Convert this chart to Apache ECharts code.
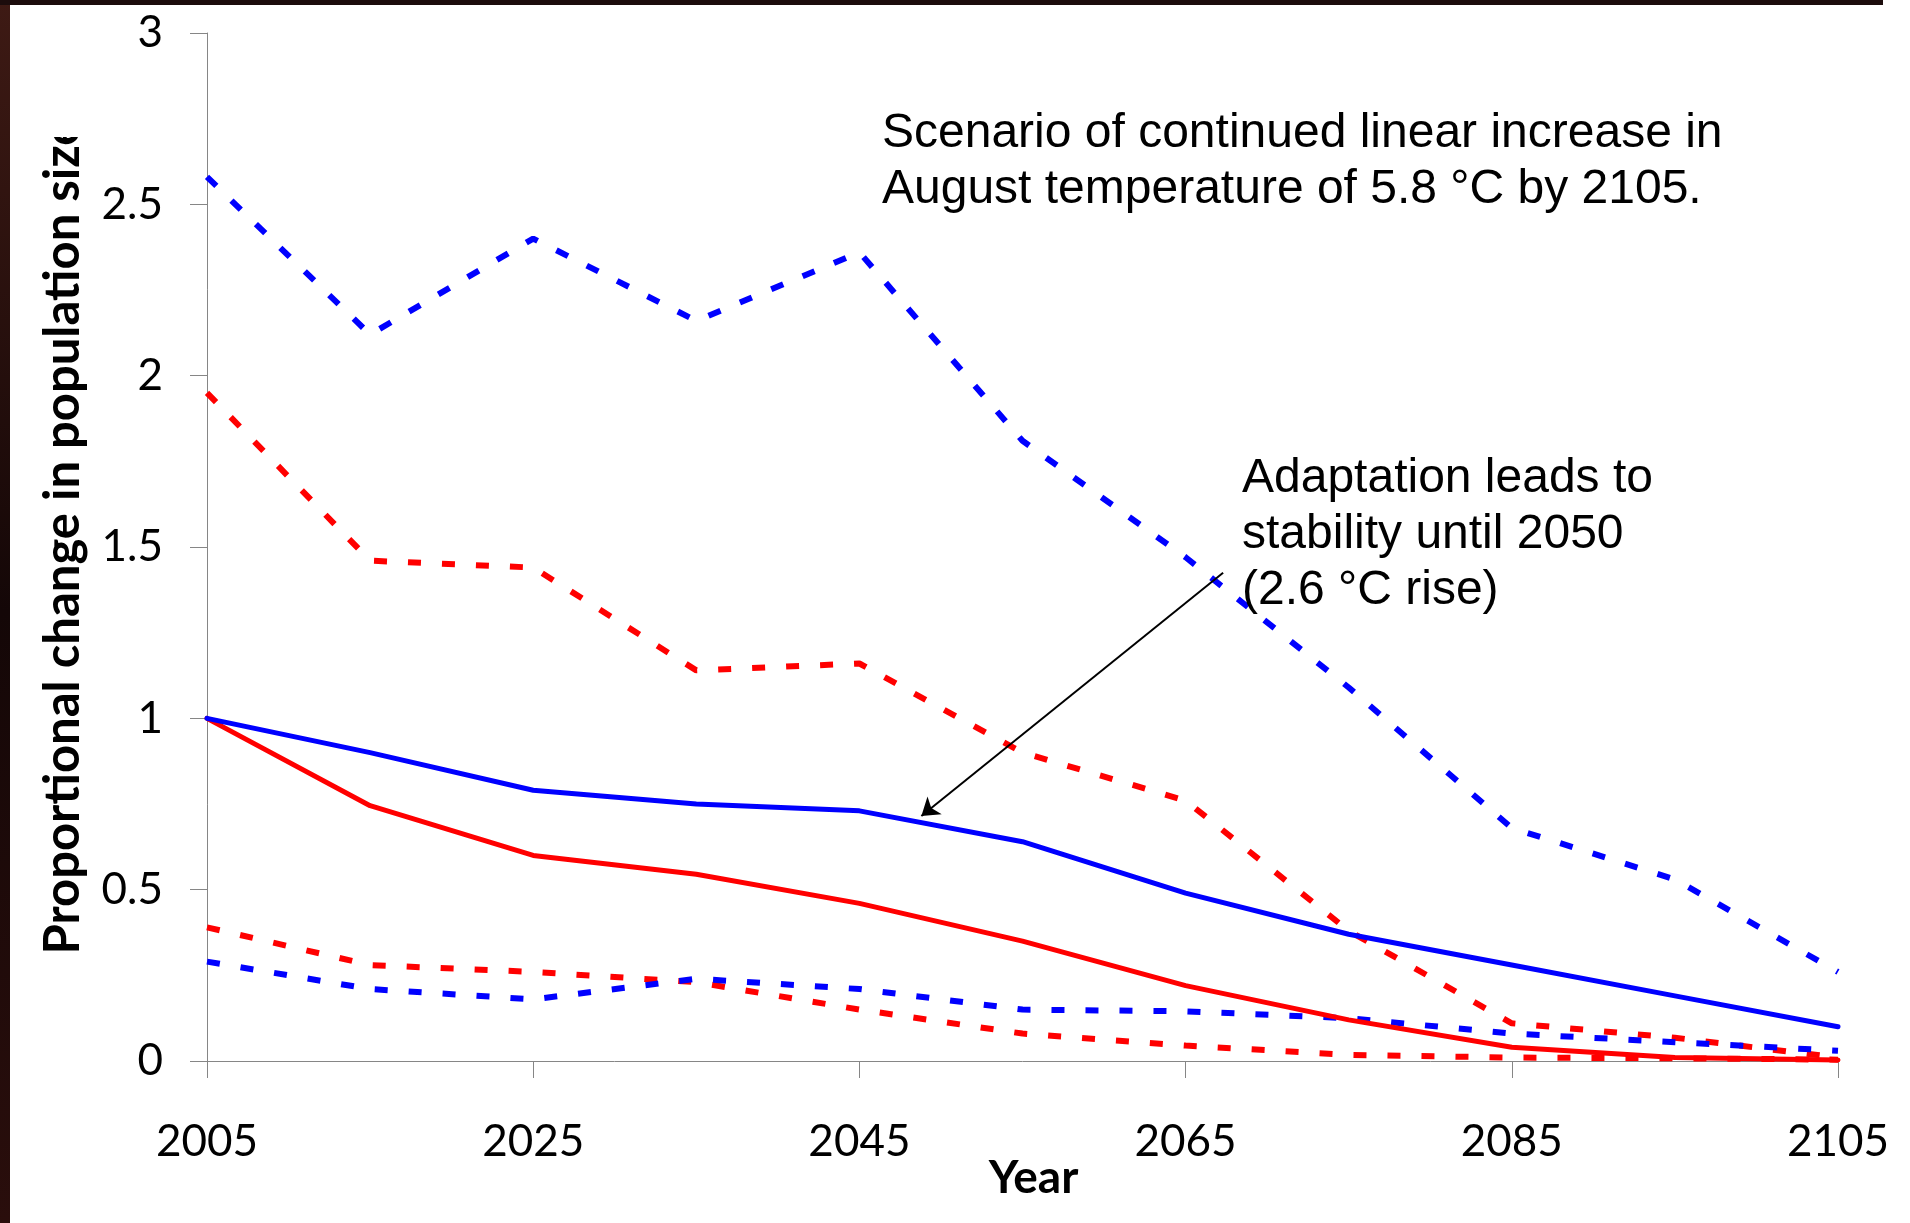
<!DOCTYPE html>
<html>
<head>
<meta charset="utf-8">
<title>Proportional change in population size</title>
<script src="https://cdn.jsdelivr.net/npm/echarts@6/dist/echarts.min.js"></script>
<style>
  html, body { margin: 0; padding: 0; background: #fff; }
  #chart { width: 1910px; height: 1223px; }
</style>
</head>
<body>
<div id="chart"></div>
<script>
// years simulated, one point every 10 years
const years = [2005, 2015, 2025, 2035, 2045, 2055, 2065, 2075, 2085, 2095, 2105];
const xTickYears = [2005, 2025, 2045, 2065, 2085, 2105];

// blue = with adaptation, red = without; dotted = upper / lower bounds
const blueMean  = [1.00, 0.90, 0.79, 0.75, 0.73, 0.64, 0.49, 0.37, 0.28, 0.19, 0.10];
const blueUpper = [2.58, 2.12, 2.40, 2.16, 2.36, 1.81, 1.47, 1.09, 0.68, 0.53, 0.26];
const blueLower = [0.29, 0.21, 0.18, 0.24, 0.21, 0.15, 0.145, 0.125, 0.08, 0.055, 0.03];
const redMean   = [1.00, 0.745, 0.60, 0.545, 0.46, 0.35, 0.22, 0.12, 0.04, 0.01, 0.003];
const redUpper  = [1.95, 1.46, 1.44, 1.14, 1.16, 0.90, 0.76, 0.38, 0.11, 0.068, 0.01];
const redLower  = [0.39, 0.28, 0.26, 0.23, 0.15, 0.08, 0.045, 0.018, 0.01, 0.008, 0.004];

// annotation arrow, in data units [year, value]
const arrowFrom = [2067.3, 1.425];
const arrowTo = [2048.8, 0.715];

const chart = echarts.init(document.getElementById('chart'));

function pairs(values) {
  return years.map((y, i) => [y, values[i]]);
}

function solid(name, color, values, extra) {
  return Object.assign({
    name: name,
    type: 'line',
    data: pairs(values),
    showSymbol: false,
    symbol: 'none',
    lineStyle: { color: color, width: 5, cap: 'round', join: 'round' },
    itemStyle: { color: color },
    emphasis: { disabled: true }
  }, extra || {});
}

function dotted(name, color, values) {
  return {
    name: name,
    type: 'line',
    data: pairs(values),
    showSymbol: false,
    symbol: 'none',
    lineStyle: { color: color, width: 6, type: [13, 21], cap: 'butt' },
    itemStyle: { color: color },
    emphasis: { disabled: true }
  };
}

const tickFont = { fontFamily: 'Lato', fontSize: 44, color: '#000' };

const option = {
  animation: false,
  backgroundColor: '#fff',
  grid: { left: 207, right: 72, top: 33, bottom: 162, outerBoundsMode: 'none' },
  xAxis: {
    type: 'value',
    min: 2005,
    max: 2105,
    name: 'Year',
    nameLocation: 'middle',
    nameGap: 94,
    nameMoveOverlap: false,
    nameTextStyle: {
      fontFamily: 'Lato', fontSize: 46, fontWeight: 'bold', color: '#000',
      lineHeight: 46, padding: [0, 0, 0, 22]
    },
    axisLine: { lineStyle: { color: '#868686', width: 1 } },
    axisTick: { show: true, length: 17, customValues: xTickYears, lineStyle: { color: '#868686', width: 1 } },
    axisLabel: Object.assign({
      customValues: xTickYears,
      margin: 59,
      lineHeight: 44,
      formatter: (v) => String(v)
    }, tickFont),
    splitLine: { show: false }
  },
  yAxis: {
    type: 'value',
    min: 0,
    max: 3,
    interval: 0.5,
    name: 'Proportional change in population size',
    nameLocation: 'middle',
    nameRotate: 90,
    nameGap: 119,
    nameMoveOverlap: false,
    nameTextStyle: {
      fontFamily: 'Lato', fontSize: 49, fontWeight: 'bold', color: '#000',
      padding: [0, 0, 0, 20]
    },
    axisLine: { show: true, lineStyle: { color: '#868686', width: 1 } },
    axisTick: { show: true, length: 17, lineStyle: { color: '#868686', width: 1 } },
    axisLabel: Object.assign({ margin: 44 }, tickFont),
    splitLine: { show: false }
  },
  series: [
    dotted('Upper, adaptation', '#0000ff', blueUpper),
    dotted('Upper, no adaptation', '#ff0000', redUpper),
    dotted('Lower, no adaptation', '#ff0000', redLower),
    dotted('Lower, adaptation', '#0000ff', blueLower),
    solid('Mean, no adaptation', '#ff0000', redMean),
    solid('Mean, adaptation', '#0000ff', blueMean, {
      markLine: {
        silent: true,
        symbol: ['none', 'arrow'],
        symbolSize: 17,
        label: { show: false },
        lineStyle: { color: '#000', width: 2, type: 'solid' },
        emphasis: { disabled: true },
        data: [[{ coord: arrowFrom }, { coord: arrowTo }]]
      }
    })
  ],
  graphic: [
    // dark photo frame showing at top and left edges
    {
      type: 'rect', left: 0, top: 0, z: 200,
      shape: { width: 10, height: 1223 },
      style: {
        fill: new echarts.graphic.LinearGradient(0, 0, 0, 1, [
          { offset: 0, color: '#3e1a14' },
          { offset: 0.5, color: '#140707' },
          { offset: 1, color: '#2a0e0c' }
        ])
      }
    },
    {
      type: 'rect', left: 0, top: 0, z: 200,
      shape: { width: 1883, height: 5 },
      style: { fill: '#1c0c0c' }
    },
    // the axis title runs off the top of its box in the original
    {
      type: 'rect', left: 12, top: 6, z: 150,
      shape: { width: 100, height: 131 },
      style: { fill: '#fff' }
    },
    {
      type: 'text', left: 882, top: 106, z: 100,
      style: {
        text: 'Scenario of continued linear increase in\nAugust temperature of 5.8 °C by 2105.',
        font: '48px "Liberation Sans", Arial, sans-serif',
        lineHeight: 56,
        fill: '#000'
      }
    },
    {
      type: 'text', left: 1242, top: 451, z: 100,
      style: {
        text: 'Adaptation leads to\nstability until 2050\n(2.6 °C rise)',
        font: '48px "Liberation Sans", Arial, sans-serif',
        lineHeight: 56,
        fill: '#000'
      }
    }
  ]
};

chart.setOption(option);
</script>
</body>
</html>
